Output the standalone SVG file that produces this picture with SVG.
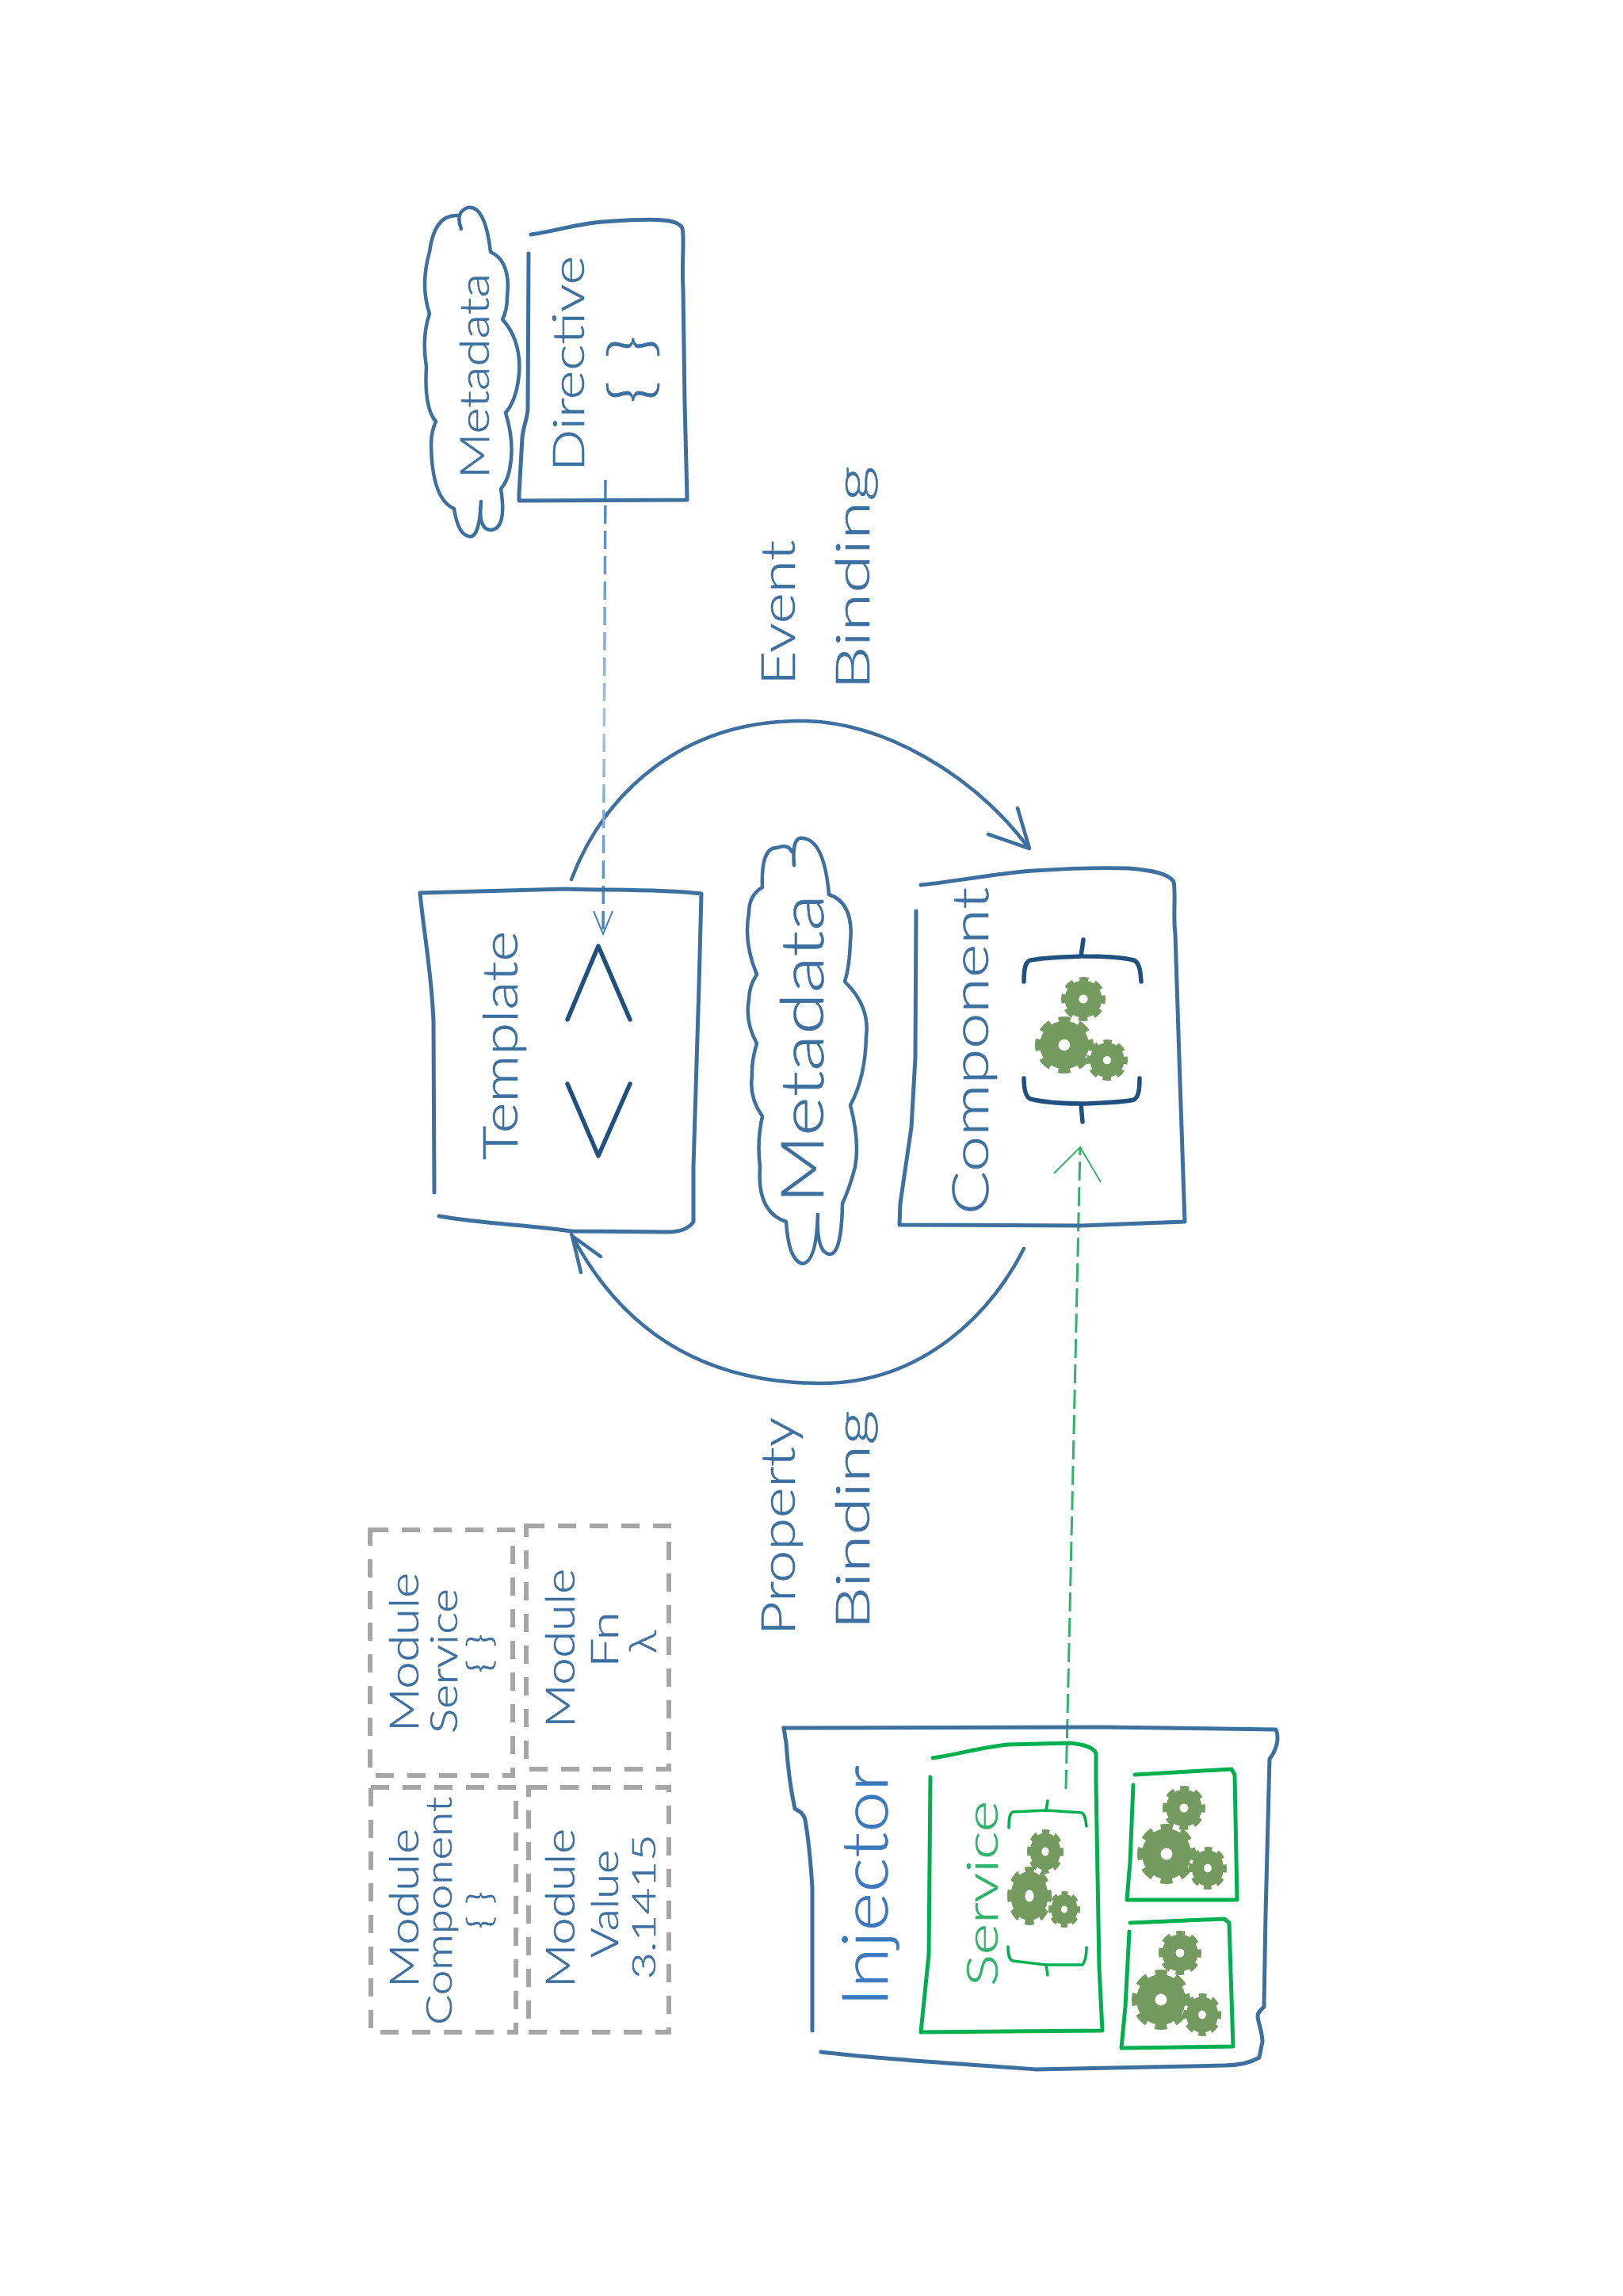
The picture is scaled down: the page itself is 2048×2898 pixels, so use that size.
<svg xmlns="http://www.w3.org/2000/svg" width="2048" height="2898" viewBox="0 0 2048 2898">
<style>
.box{fill:none;stroke:#3d6f9f;stroke-width:5;stroke-linecap:round;stroke-linejoin:round}
.cloud{fill:#fff;stroke:#3d6f9f;stroke-width:4.5;stroke-linejoin:round;stroke-linecap:round}
.gbox{fill:none;stroke:#00b050;stroke-width:5;stroke-linecap:round;stroke-linejoin:round}
.mod{fill:none;stroke:#a6a6a6;stroke-width:6;stroke-dasharray:23 17}
.navy{fill:none;stroke:#20507f;stroke-width:5.5;stroke-linecap:round;stroke-linejoin:round}
.gb{fill:none;stroke:#00b050;stroke-width:3.5;stroke-linecap:round;stroke-linejoin:round}
.arc{fill:none;stroke:#3d6f9f;stroke-width:4.5;stroke-linecap:round;stroke-linejoin:round}
.t{font-family:Lato,"Open Sans","Liberation Sans",sans-serif;font-weight:300;fill:#3d6f9f;stroke:#3d6f9f;stroke-width:.6}
.g{fill:#2fb36a;stroke:#2fb36a}
.i{fill:#3b78bd;stroke:#3b78bd}
.gf{fill:#759a60}
.gs{fill:none;stroke:#759a60;stroke-width:24;stroke-dasharray:40 29.12;stroke-dashoffset:20}
</style>
<defs>
<g id="gear">
<circle class="gf" r="84"/>
<circle class="gs" r="88"/>
<circle r="20" fill="#fff"/>
</g>
<linearGradient id="blueDash" gradientUnits="userSpaceOnUse" x1="0" y1="606" x2="0" y2="1179">
<stop offset="0" stop-color="#4a80bb"/><stop offset=".55" stop-color="#a5c6e6"/><stop offset="1" stop-color="#4a80bb"/>
</linearGradient>
</defs>
<rect width="2048" height="2898" fill="#fff"/>

<g id="connectors">
<path id="event-binding-arc" class="arc" d="M721,1110 C765,995 865,912 1005,910 C1115,908 1230,980 1298,1070 M1247,1053 L1299,1071 L1284,1020"/>
<path id="property-binding-arc" class="arc" d="M1292,1576 C1255,1650 1170,1746 1036,1746 C900,1746 790,1690 721,1558 M758,1586 L722,1560 L733,1606"/>
<path id="directive-template" fill="none" stroke="url(#blueDash)" stroke-width="3.5" stroke-dasharray="23 9" d="M764,606 L761,1179"/>
<path id="directive-template-head" fill="none" stroke="#4a80bb" stroke-width="2" d="M749,1150 L761,1179 L773,1150"/>
<path id="service-component" fill="none" stroke="#2fb36a" stroke-width="3" stroke-dasharray="24 8" d="M1345,2258 L1363,1448"/>
<path id="service-component-head" fill="none" stroke="#2fb36a" stroke-width="2" d="M1330,1481 L1363,1448 L1389,1492"/>
</g>

<g id="directive">
<path class="box" d="M670,296 C700,292 730,282 760,280 C790,278 815,276 837,278 C850,279 858,282 861,288 C864,300 860,330 862,365 L864,508 L867,628 L867,631 L655,632 L655,624 L659,552 C661,535 665,530 666,517 L667,320"/>
<text class="t" transform="translate(737,595) rotate(-90)" font-size="56" textLength="272" lengthAdjust="spacingAndGlyphs">Directive</text>
<text class="t" transform="translate(822,510) rotate(-90)" font-size="74" textLength="87" lengthAdjust="spacingAndGlyphs">{ }</text>
</g>
<g id="directive-metadata">
<path class="cloud" d="M582,289 Q574,268 590,262 Q612,258 619,318 Q645,330 640,374 Q640,392 634,403 Q658,430 655,472 Q652,505 638,521 Q650,560 643,593 Q640,608 632,617 Q640,668 619,669 Q603,668 607,633 Q605,680 592,677 Q578,675 573,642 Q545,630 544,561 Q544,545 550,532 Q535,515 538,463 Q532,425 542,396 Q530,360 542,318 Q548,270 578,272"/>
<text class="t" transform="translate(617,604) rotate(-90)" font-size="52" textLength="259" lengthAdjust="spacingAndGlyphs">Metadata</text>
</g>

<g id="event-binding-label">
<text class="t" transform="translate(1003,865) rotate(-90)" font-size="60" textLength="183" lengthAdjust="spacingAndGlyphs">Event</text>
<text class="t" transform="translate(1097,871) rotate(-90)" font-size="60" textLength="283" lengthAdjust="spacingAndGlyphs">Binding</text>
</g>

<g id="template">
<path class="box" d="M548,1505 L547,1290 C545,1230 535,1180 530,1127 L714,1122 C770,1124 830,1122 885,1128 L882,1244 L875,1473 L875,1542 C868,1553 855,1555 842,1555 L721,1554 C670,1546 610,1545 554,1535"/>
<text class="t" transform="translate(653,1464) rotate(-90)" font-size="62" textLength="289" lengthAdjust="spacingAndGlyphs">Template</text>
<polyline class="navy" points="716,1287 755,1194 795,1287"/>
<polyline class="navy" points="716,1368 755,1459 795,1368"/>
</g>

<g id="metadata">
<path class="cloud" d="M1002,1092 Q999,1055 1013,1058 Q1040,1060 1046,1129 Q1078,1140 1073,1189 Q1072,1220 1066,1239 Q1098,1270 1093,1308 Q1092,1360 1073,1395 Q1085,1440 1079,1473 Q1072,1500 1063,1519 Q1062,1585 1046,1583 Q1030,1580 1032,1533 Q1030,1595 1012,1595 Q995,1590 992,1542 Q955,1530 959,1473 Q955,1440 962,1409 Q945,1385 949,1358 Q948,1340 955,1317 Q940,1290 945,1262 Q945,1245 955,1230 Q938,1190 945,1152 Q945,1130 962,1120 Q960,1070 980,1070 Q995,1065 999,1075"/>
<text class="t" transform="translate(1039,1519) rotate(-90)" font-size="75" textLength="390" lengthAdjust="spacingAndGlyphs">Metadata</text>
</g>

<g id="component">
<path class="box" d="M1162,1117 C1210,1112 1260,1102 1304,1099 C1350,1096 1390,1095 1424,1096 C1450,1098 1475,1102 1481,1113 C1484,1130 1480,1155 1483,1179 L1488,1335 L1495,1542 L1364,1547 L1135,1546 L1136,1519 L1150,1423 L1155,1335 L1156,1150"/>
<text class="t" transform="translate(1247,1533) rotate(-90)" font-size="64" textLength="413" lengthAdjust="spacingAndGlyphs">Component</text>
<path class="navy" d="M1292,1239 C1292,1222 1294,1214 1300,1212 C1320,1208 1350,1208 1364,1207 L1367,1186 M1367,1207 C1385,1207 1415,1208 1431,1212 C1438,1216 1439,1225 1440,1239"/>
<path class="navy" d="M1292,1361 C1292,1375 1294,1384 1300,1387 C1320,1392 1350,1393 1364,1393 L1366,1416 M1366,1393 C1385,1392 1415,1392 1431,1388 C1437,1384 1438,1375 1438,1361"/>
<use href="#gear" transform="translate(1343,1319) scale(.37,.36)"/>
<use href="#gear" transform="translate(1367,1261) scale(.28,.28)"/>
<use href="#gear" transform="translate(1397,1338) scale(.26,.26)"/>
</g>

<g id="property-binding-label">
<text class="t" transform="translate(1003,2064) rotate(-90)" font-size="60" textLength="275" lengthAdjust="spacingAndGlyphs">Property</text>
<text class="t" transform="translate(1097,2057) rotate(-90)" font-size="60" textLength="277" lengthAdjust="spacingAndGlyphs">Binding</text>
</g>

<g id="module-service">
<rect class="mod" x="467" y="1931" width="180" height="310"/>
<text class="t" transform="translate(528,2186) rotate(-90)" font-size="52" textLength="201" lengthAdjust="spacingAndGlyphs">Module</text>
<text class="t" transform="translate(577,2188) rotate(-90)" font-size="48" textLength="183" lengthAdjust="spacingAndGlyphs">Service</text>
<text class="t" transform="translate(620,2112) rotate(-90)" font-size="42" textLength="50" lengthAdjust="spacingAndGlyphs">{ }</text>
</g>
<g id="module-fn">
<rect class="mod" x="664" y="1926" width="180" height="307"/>
<text class="t" transform="translate(725,2181) rotate(-90)" font-size="52" textLength="201" lengthAdjust="spacingAndGlyphs">Module</text>
<text class="t" transform="translate(780,2105) rotate(-90)" font-size="48" textLength="71" lengthAdjust="spacingAndGlyphs">Fn</text>
<text class="t" transform="translate(828,2087) rotate(-90)" font-size="48" font-weight="700" textLength="29" lengthAdjust="spacingAndGlyphs">λ</text>
</g>
<g id="module-component">
<rect class="mod" x="468" y="2256" width="183" height="309"/>
<text class="t" transform="translate(528,2509) rotate(-90)" font-size="52" textLength="201" lengthAdjust="spacingAndGlyphs">Module</text>
<text class="t" transform="translate(570,2556) rotate(-90)" font-size="46" textLength="288" lengthAdjust="spacingAndGlyphs">Component</text>
<text class="t" transform="translate(620,2435) rotate(-90)" font-size="42" textLength="48" lengthAdjust="spacingAndGlyphs">{ }</text>
</g>
<g id="module-value">
<rect class="mod" x="667" y="2256" width="177" height="309"/>
<text class="t" transform="translate(725,2509) rotate(-90)" font-size="52" textLength="201" lengthAdjust="spacingAndGlyphs">Module</text>
<text class="t" transform="translate(780,2471) rotate(-90)" font-size="48" textLength="136" lengthAdjust="spacingAndGlyphs">Value</text>
<text class="t" transform="translate(827,2498) rotate(-90)" font-size="42" textLength="183" lengthAdjust="spacingAndGlyphs">3.1415</text>
</g>

<g id="injector">
<path class="box" d="M989,2181 L1394,2180 L1610,2183 C1615,2195 1610,2210 1602,2220 L1597,2417 L1595,2533 C1590,2538 1587,2540 1587,2545 C1588,2555 1593,2565 1593,2577 L1589,2597 C1575,2605 1560,2607 1545,2607 L1307,2612 C1215,2605 1120,2600 1036,2590"/>
<path class="box" d="M1025,2563 L1025,2383 C1023,2350 1020,2320 1016,2297 C1014,2288 1008,2286 1003,2283 C998,2260 994,2230 992,2200 L989,2181"/>
<text class="t i" transform="translate(1120,2533) rotate(-90)" font-size="80" textLength="305" lengthAdjust="spacingAndGlyphs">Injector</text>
</g>

<g id="service">
<path class="gbox" d="M1177,2219 C1210,2214 1240,2205 1272,2202 L1350,2200 C1368,2202 1380,2205 1383,2213 L1383,2250 L1387,2483 L1391,2563 L1162,2565 L1172,2467 L1174,2243"/>
<text class="t g" transform="translate(1259,2507) rotate(-90)" font-size="56" textLength="234" lengthAdjust="spacingAndGlyphs">Service</text>
<path class="gb" d="M1273,2307 C1273,2295 1274,2289 1278,2287 L1320,2285 L1322,2273 M1320,2285 L1365,2288 C1369,2290 1370,2297 1371,2305"/>
<path class="gb" d="M1272,2457 C1272,2467 1273,2473 1278,2475 L1320,2480 L1322,2493 M1320,2480 L1366,2480 C1370,2475 1371,2467 1371,2458"/>
<use href="#gear" transform="translate(1299,2393) scale(.28,.37)"/>
<use href="#gear" transform="translate(1319,2337) scale(.23,.28)"/>
<use href="#gear" transform="translate(1343,2410) scale(.2,.23)"/>
</g>

<g id="service-a">
<path class="gbox" d="M1432,2240 L1554,2233 L1558,2240 L1561,2398 L1422,2398 L1426,2350 L1430,2253"/>
<use href="#gear" transform="translate(1472,2340) scale(.37,.38)"/>
<use href="#gear" transform="translate(1494,2282) scale(.27,.28)"/>
<use href="#gear" transform="translate(1524,2358) scale(.24,.27)"/>
</g>
<g id="service-b">
<path class="gbox" d="M1426,2427 L1545,2422 L1551,2427 L1556,2583 L1415,2585 L1420,2533 L1425,2438"/>
<use href="#gear" transform="translate(1465,2524) scale(.37,.38)"/>
<use href="#gear" transform="translate(1489,2465) scale(.27,.28)"/>
<use href="#gear" transform="translate(1517,2543) scale(.24,.27)"/>
</g>
</svg>
